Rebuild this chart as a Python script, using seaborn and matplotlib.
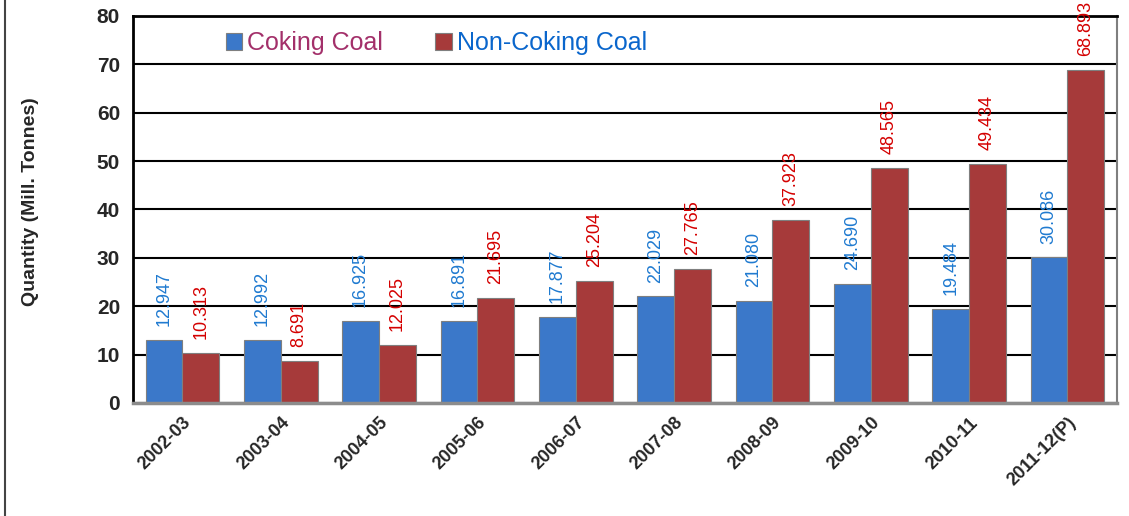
import matplotlib
matplotlib.use("Agg")
import matplotlib.pyplot as plt
import pandas as pd
import seaborn as sns
from matplotlib.lines import Line2D

years = ["2002-03", "2003-04", "2004-05", "2005-06", "2006-07",
         "2007-08", "2008-09", "2009-10", "2010-11", "2011-12(P)"]
coking = [12.947, 12.992, 16.925, 16.891, 17.877, 22.029, 21.080, 24.690, 19.484, 30.086]
non_coking = [10.313, 8.691, 12.025, 21.695, 25.204, 27.765, 37.923, 48.565, 49.434, 68.893]
coking_labels = ["12.947", "12.992", "16.925", "16.891", "17.877",
                 "22.029", "21.080", "24.690", "19.484", "30.086"]
non_coking_labels = ["10.313", "8.691", "12.025", "21.695", "25.204",
                     "27.765", "37.923", "48.565", "49.434", "68.893"]
series = ["Coking Coal", "Non-Coking Coal"]

df = pd.DataFrame({
    "year": years * 2,
    "value": coking + non_coking,
    "type": [series[0]] * len(years) + [series[1]] * len(years),
})

sns.set_style("white")
plt.rcParams["font.family"] = ["Liberation Sans Narrow", "Liberation Sans", "DejaVu Sans"]

fig = plt.figure(figsize=(11.29, 5.16), dpi=100)
ax = fig.add_axes([0.118, 0.219, 0.871, 0.750])

bar_colors = {"Coking Coal": "#3b78c9", "Non-Coking Coal": "#a63a3a"}
sns.barplot(data=df, x="year", y="value", hue="type", palette=bar_colors,
            width=0.75, saturation=1, edgecolor="#7f7f7f", linewidth=0.8, ax=ax)

ax.set_ylim(0, 80)
ax.set_yticks(range(0, 81, 10))
ax.yaxis.grid(True, color="black", linewidth=1.5)
ax.set_axisbelow(True)

# value labels
label_colors = ["#1f7ad0", "#d40000"]
for cont, labs, col in zip(ax.containers, [coking_labels, non_coking_labels], label_colors):
    ax.bar_label(cont, labels=labs, rotation=90, padding=10, color=col, fontsize=13)

ax.set_xlabel("")
ax.set_ylabel("")
ax.tick_params(axis="x", which="major", length=0, pad=8)
ax.set_xticks([i - 0.5 for i in range(len(years) + 1)], minor=True)
ax.tick_params(axis="x", which="minor", length=6, width=1.5, color="#8c8c8c", direction="out")
ax.tick_params(axis="y", length=6, width=1.5, color="black", direction="out", labelsize=15)
for lab in ax.get_yticklabels():
    lab.set_fontweight("bold")
plt.setp(ax.get_xticklabels(), rotation=45, ha="right", rotation_mode="anchor",
         fontsize=13, fontweight="bold")

for side in ["left", "top"]:
    ax.spines[side].set_color("black")
    ax.spines[side].set_linewidth(2)
ax.spines["right"].set_color("#7f7f7f")
ax.spines["right"].set_linewidth(1.5)
ax.spines["bottom"].set_color("#8c8c8c")
ax.spines["bottom"].set_linewidth(2.5)

leg = ax.legend(loc="center left", bbox_to_anchor=(0.094, 0.93), ncol=2, frameon=False,
                fontsize=18, handlelength=0.65, handleheight=0.65, handletextpad=0.2,
                columnspacing=2.1, borderpad=0, borderaxespad=0)
for txt, col in zip(leg.get_texts(), ["#a3306a", "#0a66cc"]):
    txt.set_color(col)

fig.text(0.027, 0.61, "Quantity (Mill. Tonnes)", rotation=90, ha="center", va="center",
         fontsize=14, fontweight="bold")

fig.add_artist(Line2D([0.004, 0.004], [0, 1], transform=fig.transFigure,
                      color="#444444", linewidth=1.5))

fig.savefig("out.png", dpi=100)
